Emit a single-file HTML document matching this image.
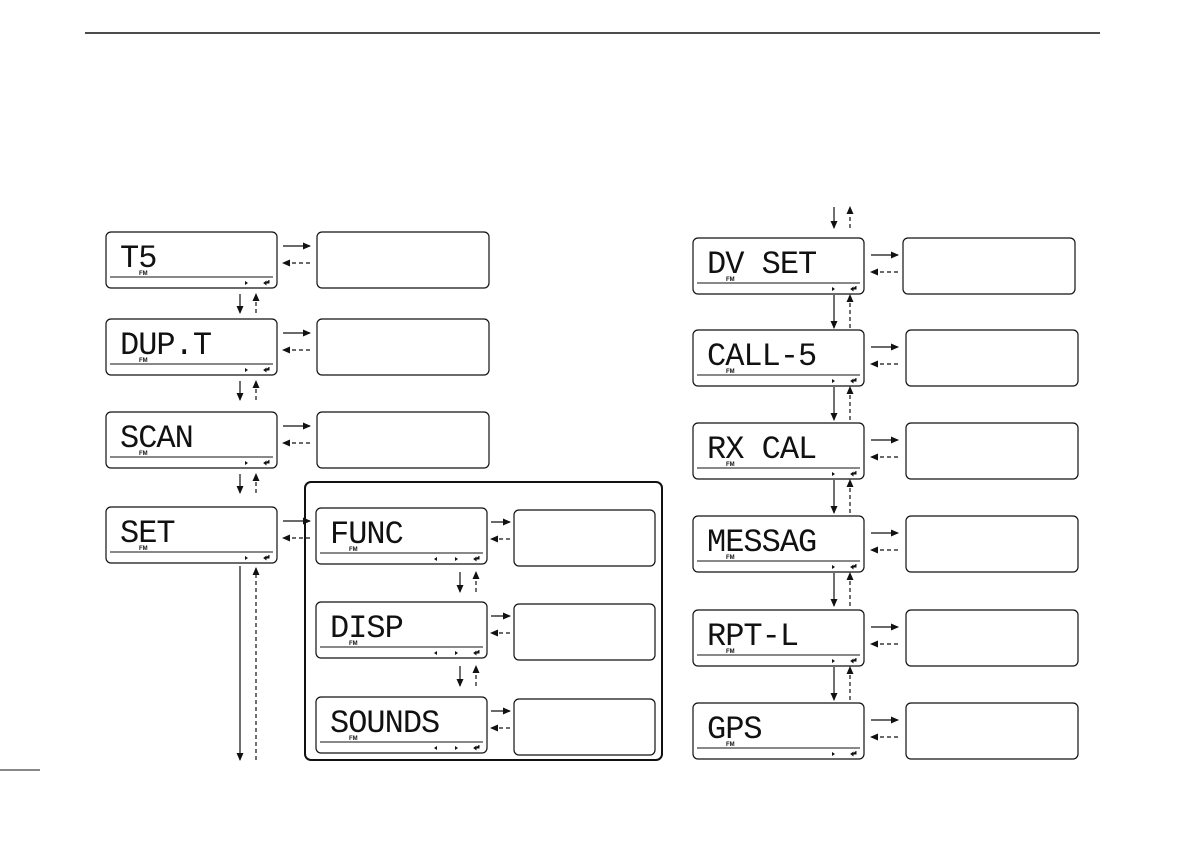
<!DOCTYPE html>
<html><head><meta charset="utf-8"><style>
body{margin:0;background:#fff;width:1191px;height:842px;overflow:hidden}
svg{display:block}
.lcd{font-family:"Liberation Mono",monospace;font-size:32px;fill:#111;letter-spacing:-1px}
.fm{font-family:"Liberation Sans",sans-serif;font-size:6px;font-weight:bold;fill:#111}
</style></head><body>
<svg id="s" width="1191" height="842" xmlns="http://www.w3.org/2000/svg">
<defs>
<marker id="a" markerWidth="8" markerHeight="8" refX="7" refY="4" orient="auto" markerUnits="userSpaceOnUse"><path d="M0,0.5 L8,4 L0,7.5 Z" fill="#111"/></marker>
</defs>
<line x1="85" y1="33" x2="1100" y2="33" stroke="#111" stroke-width="1.5"/>
<line x1="0" y1="770" x2="40" y2="770" stroke="#111" stroke-width="1"/>
<rect x="305" y="482" width="357" height="278" rx="6" fill="none" stroke="#111" stroke-width="2"/>
<line x1="256" y1="760" x2="256" y2="568" stroke="#111" stroke-width="1.2" stroke-dasharray="4,3" marker-end="url(#a)"/>
<line x1="240" y1="566" x2="240" y2="760" stroke="#111" stroke-width="1.2" marker-end="url(#a)"/>
</svg>
<script>
var s=document.getElementById('s'),h='';
function lcd(x,y,t,left){h+=`<rect x="${x}" y="${y}" width="171" height="56" rx="5" fill="none" stroke="#111" stroke-width="1.2"/>
<text class="lcd" x="${x+14}" y="${y+35}">${t}</text><text class="fm" x="${x+33}" y="${y+43}">FM</text>
<line x1="${x+4}" y1="${y+45}" x2="${x+167}" y2="${y+45}" stroke="#111" stroke-width="1"/>
<path d="M${x+139},${y+49} l3,2 l-3,2z" fill="#111"/>
<path d="M${x+163},${y+48} v3 h-4 M${x+158},${y+51} l2,-1.5 v3z" stroke="#111" stroke-width="1" fill="#111"/>`;
if(left)h+=`<path d="M${x+121},${y+49} l-3,2 l3,2z" fill="#111"/>`;}
function box(x,y,w){h+=`<rect x="${x}" y="${y}" width="${w}" height="56" rx="5" fill="none" stroke="#111" stroke-width="1.2"/>`;}
function harr(x1,x2,y){h+=`<line x1="${x1}" y1="${y}" x2="${x2}" y2="${y}" stroke="#111" stroke-width="1.2" marker-end="url(#a)"/>
<line x1="${x2}" y1="${y+17}" x2="${x1}" y2="${y+17}" stroke="#111" stroke-width="1.2" stroke-dasharray="4,3" marker-end="url(#a)"/>`;}
function varr(x,y1,y2){h+=`<line x1="${x}" y1="${y1}" x2="${x}" y2="${y2}" stroke="#111" stroke-width="1.2" marker-end="url(#a)"/>
<line x1="${x+16}" y1="${y2}" x2="${x+16}" y2="${y1}" stroke="#111" stroke-width="1.2" stroke-dasharray="4,3" marker-end="url(#a)"/>`;}
var L=[['T5',232],['DUP.T',319],['SCAN',412],['SET',507]];
L.forEach(function(r,i){lcd(106,r[1],r[0]);harr(283,310,r[1]+14);if(i<3){box(317,r[1],172);varr(240,r[1]+62,r[1]+81);}});
var I=[['FUNC',508],['DISP',602],['SOUNDS',697]];
I.forEach(function(r,i){lcd(316,r[1],r[0],1);box(514,r[1]+2,141);harr(491,510,r[1]+14);if(i<2)varr(460,r[1]+64,r[1]+84);});
var R=[['DV SET',238],['CALL-5',330],['RX CAL',423],['MESSAG',516],['RPT-L',610],['GPS',703]];
R.forEach(function(r,i){lcd(693,r[1],r[0]);box(i==0?903:906,r[1],172);harr(871,898,r[1]+17);if(i<5)varr(834,r[1]+57,r[1]+90);});
varr(834,207,228);
s.insertAdjacentHTML('beforeend',h);
</script>
</body></html>
